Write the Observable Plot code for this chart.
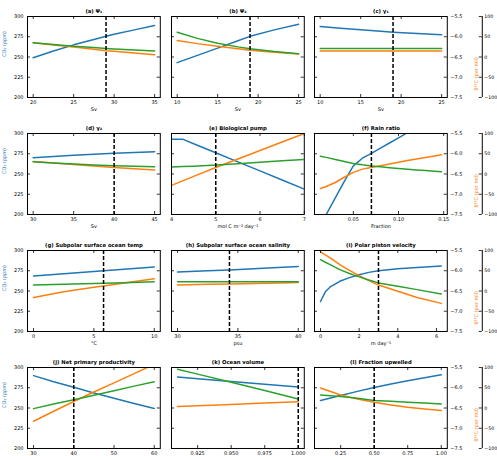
<!DOCTYPE html>
<html>
<head>
<meta charset="utf-8">
<script src="https://cdn.jsdelivr.net/npm/d3@7"></script>
<script src="https://cdn.jsdelivr.net/npm/@observablehq/plot@0.6"></script>
<style>
  body { margin: 0; background: #fff; }
  #fig { position: relative; width: 497px; height: 456px; overflow: hidden; background: #fff; }
  #fig svg { position: absolute; }
</style>
</head>
<body>
<div id="fig"></div>
<script>
// Sensitivity of atmospheric CO2, δ13C and Δ14C to twelve model parameters.

const titles = [
  "(a) Ψ₁", "(b) Ψ₂", "(c) γ₁", "(d) γ₂",
  "(e) Biological pump", "(f) Rain ratio",
  "(g) Subpolar surface ocean temp", "(h) Subpolar surface ocean salinity",
  "(i) Polar piston velocity", "(j) Net primary productivity",
  "(k) Ocean volume", "(l) Fraction upwelled"
];
const xLabels = ["Sv", "Sv", "Sv", "Sv", "mol C m⁻² day⁻¹", "Fraction", "°C", "psu", "m day⁻¹", "", "", ""];
const xTicks = [
  [20, 25, 30, 35], [10, 15, 20, 25], [10, 15, 20, 25], [30, 35, 40, 45],
  [4, 5, 6, 7], [0.05, 0.10, 0.15], [0, 5, 10], [30, 35, 40],
  [0, 2, 4, 6], [30, 40, 50, 60], [0.925, 0.950, 0.975, 1.000], [0.25, 0.50, 0.75, 1.00]
];
const xTickFormats = ["d", "d", "d", "d", "d", ".2f", "d", "d", "d", "d", ".3f", ".2f"];
const xDomains = [
  [19.3, 35.7], [9.3, 25.7], [9.3, 25.7], [29.3, 45.7],
  [4, 7], [0.007, 0.154], [-0.5, 10.5], [29.5, 40.5],
  [-0.31, 6.56], [28.5, 61.5], [0.9055, 1.0045], [0.055, 1.045]
];
// Control-run value of each parameter (dashed line)
const baselines = [29, 19, 19, 40, 5, 0.07, 5.8, 34.3, 3, 40, 1.0, 0.5];

// Parameter values sampled in each experiment
const panelX = [
  [20, 22.5, 25, 27.5, 29, 30, 32.5, 35],
  [10, 12.5, 15, 17.5, 19, 22, 25],
  [10, 12.5, 15, 17.5, 19, 22, 25],
  [30, 32.5, 35, 37.5, 40, 42.5, 45],
  [4, 4.25, 4.5, 5, 5.5, 6, 6.5, 7],
  [0.0135, 0.02, 0.03, 0.04, 0.05, 0.06, 0.07, 0.08, 0.09, 0.10, 0.11, 0.12, 0.13, 0.14, 0.1475],
  [0, 2.5, 5, 5.8, 7.5, 10],
  [30, 32.5, 34.3, 37.5, 40],
  [0, 0.25, 0.5, 1, 1.5, 2, 2.5, 3, 4, 5, 6.25],
  [30, 35, 40, 45, 50, 55, 60],
  [0.91, 0.925, 0.95, 0.975, 1.0],
  [0.1, 0.25, 0.375, 0.5, 0.625, 0.75, 0.875, 1.0]
];
// Atmospheric CO2 (ppm)
const co2 = [
  [249, 257.5, 265, 271.5, 275.5, 278, 283.5, 289],
  [243, 252, 261, 270, 275.5, 283.5, 290.5],
  [287.5, 285.4, 283.5, 281.7, 280.6, 279, 277.5],
  [270, 271.6, 273, 274.3, 275.5, 276.6, 277.6],
  [293, 293, 287.4, 276.2, 265, 253.8, 242.6, 231.4],
  [186, 200, 220.5, 241, 260, 269.5, 275.5, 282, 288.3, 294.6, 301, 307, 313.5, 320, 325],
  [268.6, 271.3, 274.1, 274.9, 276.8, 279.5],
  [273.3, 274.9, 276, 278.3, 280.2],
  [237, 249, 255, 262, 266.5, 270, 273, 275, 277.5, 279, 281],
  [290, 282.5, 275.5, 268.5, 262, 255.5, 249.5],
  [288.2, 286.2, 282.8, 279.4, 276],
  [259.3, 265.3, 270.5, 275.4, 279.6, 283.5, 287.3, 291]
];
// Atmospheric δ13C (per mil)
const d13c = [
  [-6.15, -6.194, -6.232, -6.268, -6.288, -6.30, -6.328, -6.354],
  [-5.89, -6.04, -6.16, -6.25, -6.296, -6.366, -6.42],
  [-6.29, -6.29, -6.29, -6.29, -6.29, -6.29, -6.29],
  [-6.20, -6.228, -6.254, -6.278, -6.294, -6.308, -6.32],
  [-6.33, -6.318, -6.306, -6.28, -6.246, -6.212, -6.176, -6.14],
  [-6.06, -6.09, -6.14, -6.19, -6.24, -6.274, -6.30, -6.324, -6.344, -6.364, -6.382, -6.40, -6.416, -6.432, -6.444],
  [-6.35, -6.334, -6.316, -6.31, -6.294, -6.27],
  [-6.27, -6.27, -6.27, -6.27, -6.27],
  [-5.724, -5.79, -5.85, -5.972, -6.068, -6.152, -6.23, -6.30, -6.384, -6.466, -6.574],
  [-6.516, -6.404, -6.294, -6.184, -6.072, -5.96, -5.85],
  [-5.542, -5.664, -5.866, -6.07, -6.276],
  [-6.18, -6.214, -6.26, -6.316, -6.336, -6.36, -6.378, -6.40]
];
// Atmospheric Δ14C (per mil)
const d14c = [
  [35, 29.4, 24.4, 19, 15.6, 14, 9.6, 5.6],
  [40.6, 33, 26.8, 20.6, 16.6, 11.6, 7.4],
  [15, 15, 15, 15, 15, 15, 15],
  [31, 27, 23.2, 19.6, 16, 13, 10],
  [-28, -17, -6, 16, 37, 58, 79, 100],
  [-36, -31, -21, -8, 4, 12, 16, 20.4, 24.8, 29.2, 33.2, 37, 40.8, 44.6, 47.6],
  [-16, -2, 9, 12.6, 20, 30],
  [15, 16.4, 17.4, 19.2, 20.8],
  [96.6, 89, 82, 65.2, 51, 38, 25.6, 14.6, -0.8, -16, -30.6],
  [-32.8, -8, 16, 39.4, 62, 85, 108],
  [3.8, 5.6, 8.8, 12.2, 15.6],
  [49.2, 32, 22, 14, 7.6, 2, -2.4, -6.4]
];

const co2Ticks = [200, 225, 250, 275, 300];
const d13Ticks = [-7.5, -7.0, -6.5, -6.0, -5.5];
const d14Ticks = [-100, -50, 0, 50, 100];

const BLUE = "#1f77b4", ORANGE = "#ff7f0e", GREEN = "#2ca02c";

// The three quantities share one vertical scale: the twin axes are aligned
// so that 200–300 ppm, −7.5 to −5.5 ‰ and −100 to 100 ‰ coincide.
const d13ToY = (v) => 200 + (v + 7.5) * 50;
const d14ToY = (v) => 200 + (v + 100) / 2;
const yToD13 = (y) => (y - 200) / 50 - 7.5;
const yToD14 = (y) => (y - 200) * 2 - 100;

const colLeft = [27.3, 170.7, 314];
const rowTop = [16, 133, 250, 367];
const PW = 132.8, PH = 81;
const mL = 30, mR = 52, mT = 14, mB = 22;
const FONT = "DejaVu Sans, sans-serif";

const fig = document.getElementById("fig");

titles.forEach((title, p) => {
  const r = Math.floor(p / 3), c = p % 3;
  const rows = panelX[p].map((x, i) => ({
    x, co2: co2[p][i], d13: d13ToY(d13c[p][i]), d14: d14ToY(d14c[p][i])
  }));

  const marks = [
    Plot.line(rows, {x: "x", y: "co2", stroke: BLUE, strokeWidth: 1.5, clip: true}),
    Plot.line(rows, {x: "x", y: "d14", stroke: ORANGE, strokeWidth: 1.5, clip: true}),
    Plot.line(rows, {x: "x", y: "d13", stroke: GREEN, strokeWidth: 1.5, clip: true}),
    Plot.ruleX([baselines[p]], {stroke: "black", strokeWidth: 1.5, strokeDasharray: "4,2"}),
    Plot.frame({stroke: "black", strokeWidth: 1}),
    // inward tick marks on all four sides
    Plot.ruleY(co2Ticks, {stroke: "black", strokeWidth: 0.8, insetRight: PW - 3}),
    Plot.ruleY(co2Ticks, {stroke: "black", strokeWidth: 0.8, insetLeft: PW - 3}),
    Plot.ruleX(xTicks[p], {stroke: "black", strokeWidth: 0.8, insetBottom: PH - 3}),
    Plot.ruleX(xTicks[p], {stroke: "black", strokeWidth: 0.8, insetTop: PH - 3}),
    Plot.axisX(xTicks[p], {
      tickSize: 0, tickPadding: 3, label: null, fontSize: 5,
      tickFormat: d3.format(xTickFormats[p])
    }),
    Plot.text([title], {frameAnchor: "top", dy: -7, fontWeight: "bold", fontSize: 5.3, fill: "black"}),
    Plot.text([xLabels[p]], {frameAnchor: "bottom", dy: 14, fontSize: 5, fill: "black"})
  ];

  if (c === 0) {
    marks.push(
      Plot.axisY(co2Ticks, {anchor: "left", tickSize: 0, tickPadding: 4, label: null, fontSize: 5, tickFormat: d3.format("d")}),
      Plot.text(["CO₂ (ppm)"], {frameAnchor: "left", dx: -23, rotate: -90, fill: BLUE, fontSize: 5})
    );
  }
  if (c === 2) {
    marks.push(
      Plot.axisY(d13Ticks.map(d13ToY), {
        anchor: "right", tickSize: 0, tickPadding: 3, label: null, fontSize: 5,
        tickFormat: (y) => d3.format(".1f")(yToD13(y))
      }),
      Plot.text(["δ¹⁴C (per mil)"], {frameAnchor: "right", dx: 29, rotate: -90, fill: ORANGE, fontSize: 5}),
      // offset spine for the Δ14C axis
      Plot.ruleX([xDomains[p][1]], {dx: 35, stroke: "black", strokeWidth: 1}),
      Plot.ruleY(d14Ticks.map(d14ToY), {dx: 35, stroke: "black", strokeWidth: 0.8, insetLeft: PW - 3}),
      Plot.axisY(d14Ticks.map(d14ToY), {
        anchor: "right", dx: 35, tickSize: 0, tickPadding: 2, label: null, fontSize: 4.7,
        tickFormat: (y) => d3.format("d")(yToD14(y))
      })
    );
  }

  const svg = Plot.plot({
    width: mL + PW + mR,
    height: mT + PH + mB,
    marginLeft: mL, marginRight: mR, marginTop: mT, marginBottom: mB,
    x: {domain: xDomains[p], axis: null},
    y: {domain: [200, 300], axis: null},
    style: {background: "transparent", fontFamily: FONT, fontSize: "5px", overflow: "visible", color: "black"},
    marks
  });
  svg.style.left = (colLeft[c] - mL) + "px";
  svg.style.top = (rowTop[r] - mT) + "px";
  fig.appendChild(svg);
});
</script>
</body>
</html>
